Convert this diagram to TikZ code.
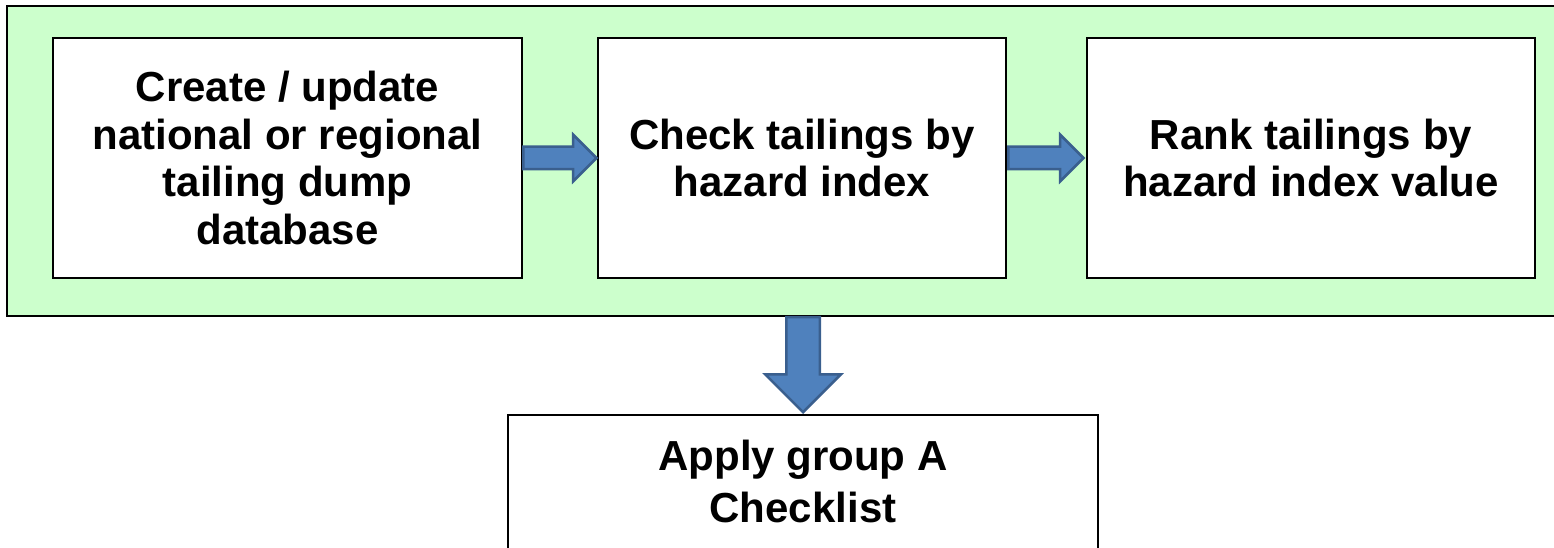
\documentclass[tikz,border=0pt]{standalone}
\usepackage{fontspec}
\setmainfont{Liberation Sans}
\usepackage{tikz}
\usetikzlibrary{shapes,arrows}
\usetikzlibrary{positioning}
\usetikzlibrary{calc}
\definecolor{panelgreen}{HTML}{CCFFCC}
\definecolor{arrowfill}{HTML}{4F81BD}
\definecolor{arrowedge}{HTML}{3A5F8E}
\tikzstyle{panel} = [rectangle, draw=black, line width=1.5pt, fill=panelgreen,
    minimum width=1555pt, minimum height=310pt, inner sep=0pt]
\tikzstyle{block} = [rectangle, draw=black, line width=1.5pt, fill=white,
    align=center, minimum height=240pt, inner sep=0pt,
    font=\fontsize{42}{47.5}\selectfont\bfseries]
\tikzstyle{barrow} = [single arrow, draw=arrowedge, line width=2.5pt,
    fill=arrowfill, inner sep=0pt, text height=10pt, text depth=10pt,
    single arrow head extend=12pt, single arrow head indent=0pt, anchor=tip]
\tikzstyle{bigarrow} = [barrow, text height=15.5pt, text depth=15.5pt,
    single arrow head extend=21pt, rotate=-90]

\begin{document}
\begin{tikzpicture}[x=1pt, y=1pt, node distance = 2cm, auto]
  \useasboundingbox (0,0) rectangle (1554,547);
  % Place nodes
  \node [panel] (stage) at (784.5,386) {};
  \node [block, minimum width=469pt] (create) at (287.5,389)
    {Create / update\\ national or regional\\ tailing dump\\ database};
  \node [block, minimum width=408pt, right of=create, node distance=514.5pt] (check)
    {Check tailings by\\ hazard index};
  \node [block, minimum width=448pt, right of=check, node distance=509pt] (rank)
    {Rank tailings by\\ hazard index value};
  \node [block, minimum width=590pt, minimum height=200pt, anchor=north,
    label={[name=applytext, anchor=north, yshift=-26pt, inner sep=0pt,
      align=center, font=\fontsize{42}{52}\selectfont\bfseries]north:
      Apply group A\\ Checklist}] (apply) at (803,133) {};

  % Block arrows
  \node [barrow, minimum height=73pt] (go1) at ([xshift=1pt]check.west) {};
  \node [barrow, minimum height=75pt] (go2) at ([xshift=-1pt]rank.west) {};
  \node [bigarrow, minimum height=95pt] (go3) at (apply.north) {};
\end{tikzpicture}
\end{document}
